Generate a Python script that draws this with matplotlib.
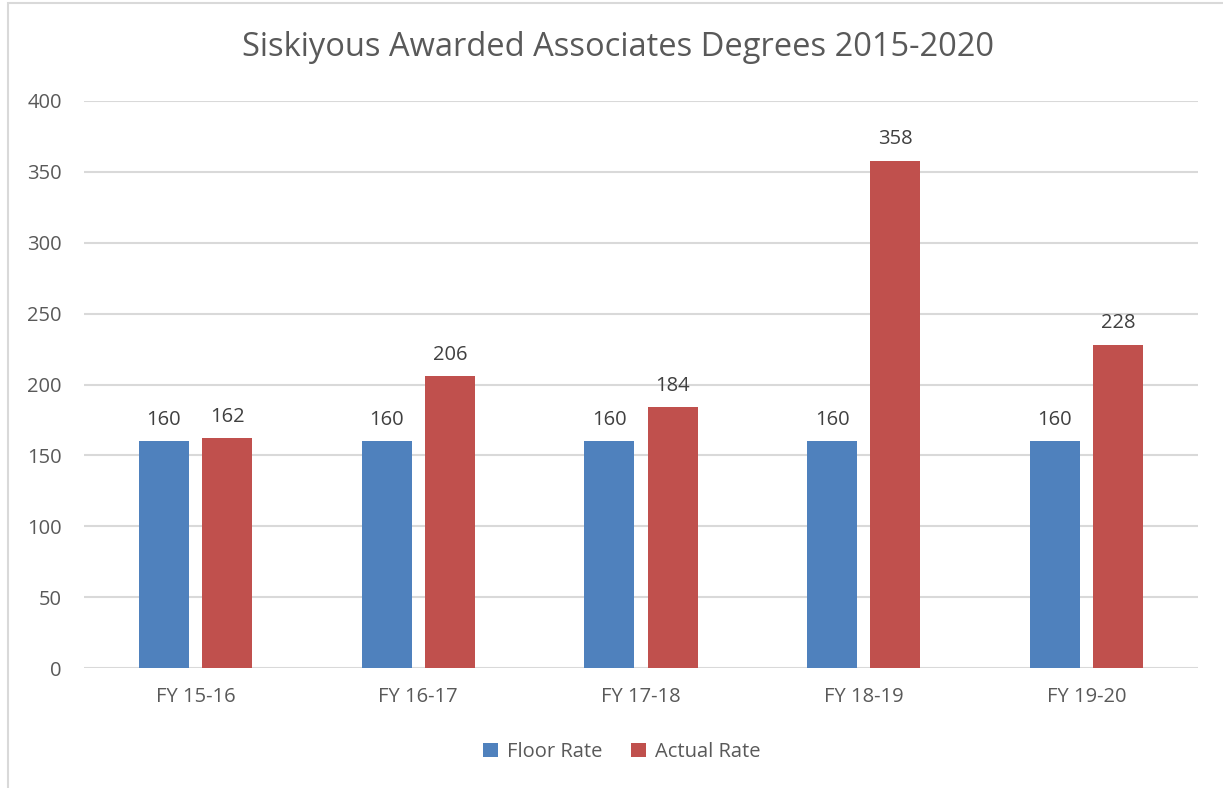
import matplotlib
matplotlib.use("Agg")
import matplotlib.pyplot as plt
from matplotlib.patches import Rectangle
import numpy as np

categories = ["FY 15-16", "FY 16-17", "FY 17-18", "FY 18-19", "FY 19-20"]
floor_rate = [160, 160, 160, 160, 160]
actual_rate = [162, 206, 184, 358, 228]
series_names = ["Floor Rate", "Actual Rate"]
colors = ["#4F81BD", "#C0504D"]

plt.rcParams['font.family'] = ['Open Sans', 'DejaVu Sans']

fig = plt.figure(figsize=(12.23, 7.88), dpi=100)
ax = fig.add_axes([84/1223, 1-668/788, (1198-84)/1223, (668-101)/788])

x = np.arange(len(categories))
w = 0.224
off = 0.142
b1 = ax.bar(x - off, floor_rate, w, color=colors[0], label=series_names[0], zorder=3)
b2 = ax.bar(x + off, actual_rate, w, color=colors[1], label=series_names[1], zorder=3)

for bars, vals in ((b1, floor_rate), (b2, actual_rate)):
    for r, v in zip(bars, vals):
        ax.text(r.get_x() + r.get_width()/2, v + 8, str(v), ha='center', va='bottom',
                fontsize=14.5, color='#404040')

ax.set_xlim(-0.5, len(categories) - 0.5)
ax.set_ylim(0, 400)
ax.set_yticks(range(0, 401, 50))
ax.set_xticks(x)
ax.set_xticklabels(categories)
ax.tick_params(axis='both', length=0, labelsize=14.5, labelcolor='#595959')
ax.tick_params(axis='y', pad=16)
ax.tick_params(axis='x', pad=14)
ax.grid(axis='y', color='#D9D9D9', linewidth=1.5, zorder=0)
for s in ax.spines.values():
    s.set_visible(False)

fig.text(618/1223, 1-47/788, "Siskiyous Awarded Associates Degrees 2015-2020", ha='center', va='center',
         fontsize=23.5, color='#595959')

leg = fig.legend(handles=[b1, b2], labels=series_names, loc='center', bbox_to_anchor=(622/1223, 1-752/788),
                 ncol=2, frameon=False, fontsize=14.5, handlelength=0.75, handleheight=0.75,
                 columnspacing=1.4, handletextpad=0.45)
for t in leg.get_texts():
    t.set_color('#595959')

fig.patches.append(Rectangle((8/1223, -0.1), 1.2, 1.1 - 3/788, transform=fig.transFigure,
                             fill=False, edgecolor='#D9D9D9', linewidth=1.5))

fig.savefig("out.png", dpi=100, facecolor='white')
